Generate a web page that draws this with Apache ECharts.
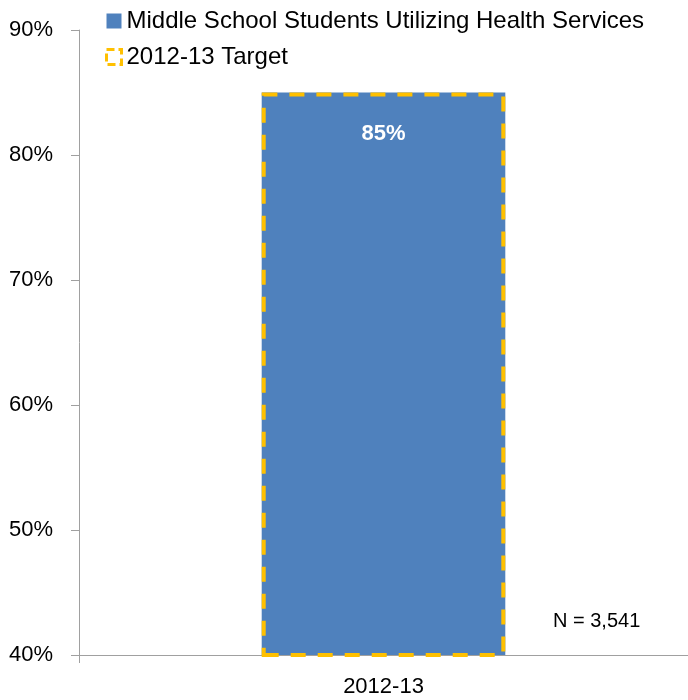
<!DOCTYPE html>
<html><head><meta charset="utf-8">
<script src="https://cdn.jsdelivr.net/npm/echarts@6/dist/echarts.min.js"></script>
<style>html,body{margin:0;padding:0;background:#fff}#c{width:688px;height:700px}</style>
</head><body><div id="c"></div>
<script>
var categories = ['2012-13'];
var studentsValues = [85];
var targetValues = [85];
var yTicks = [40, 50, 60, 70, 80, 90];
var seriesNames = ['Middle School Students Utilizing Health Services', '2012-13 Target'];
var noteText = 'N = 3,541';

var FONT = '"Liberation Sans", Arial, sans-serif';
var chart = echarts.init(document.getElementById('c'));
chart.setOption({
  animation: false,
  textStyle: {fontFamily: FONT},
  grid: {left: 79, right: 0, top: 30, bottom: 45, containLabel: false},
  legend: {
    orient: 'vertical', left: 100, top: 4, itemGap: 12,
    itemWidth: 15, itemHeight: 15,
    textStyle: {fontSize: 24, color: '#000', fontFamily: FONT},
    data: [
      {name: seriesNames[0], icon: 'rect'},
      {name: seriesNames[1], icon: 'rect', itemStyle: {color: 'rgba(0,0,0,0)', borderColor: '#FFC000', borderWidth: 3, borderType: [8, 4]}}
    ]
  },
  xAxis: {
    type: 'category', data: categories,
    axisLine: {lineStyle: {color: '#A0A0A0', width: 1}},
    axisTick: {show: true, length: 8, lineStyle: {color: '#A0A0A0'}},
    axisLabel: {fontSize: 22, color: '#000', margin: 21, fontFamily: FONT}
  },
  yAxis: {
    type: 'value', min: yTicks[0], max: yTicks[yTicks.length - 1], interval: 10,
    axisLine: {show: true, lineStyle: {color: '#A0A0A0', width: 1}},
    axisTick: {show: true, length: 8, lineStyle: {color: '#A0A0A0'}},
    splitLine: {show: false},
    axisLabel: {fontSize: 22, color: '#000', margin: 26, fontFamily: FONT, formatter: function (v) { return v + '%'; }}
  },
  series: [
    {
      name: seriesNames[0], type: 'bar', data: studentsValues, barWidth: '40%',
      itemStyle: {color: '#4F81BD'},
      label: {show: true, position: 'insideTop', distance: 30, color: '#fff', fontWeight: 'bold', fontSize: 22, fontFamily: FONT, formatter: '{c}%'},
      z: 2
    },
    {
      name: seriesNames[1], type: 'bar', data: targetValues, barWidth: '40%', barGap: '-100%',
      itemStyle: {color: 'rgba(0,0,0,0)', borderColor: '#FFC000', borderWidth: 4, borderType: [15, 12]},
      z: 3
    }
  ],
  graphic: [{
    type: 'text', left: 553, top: 611,
    style: {text: noteText, fontSize: 20, fill: '#000', fontFamily: FONT}
  }]
});
</script></body></html>
